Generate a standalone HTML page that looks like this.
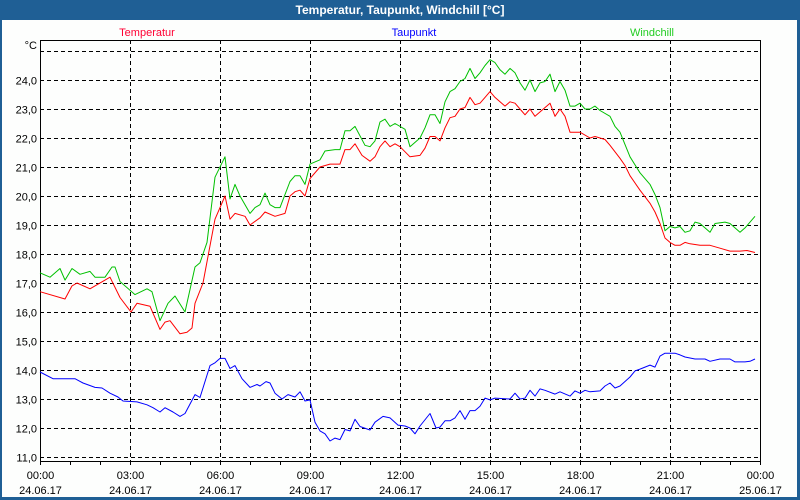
<!DOCTYPE html>
<html><head><meta charset="utf-8"><style>
html,body{margin:0;padding:0;background:#1f5f95;}
#wrap{position:relative;width:800px;height:500px;overflow:hidden;background:#1f5f95;font-family:"Liberation Sans",sans-serif;}
#title{position:absolute;left:0;top:0;width:800px;height:20px;line-height:20px;text-align:center;color:#fff;font-weight:bold;font-size:12px;}
svg{position:absolute;left:0;top:0;}
</style></head><body>
<div id="wrap">
<div id="title">Temperatur, Taupunkt, Windchill [°C]</div>
<svg id="chart" width="800" height="500">
<rect x="2" y="20" width="795" height="477" fill="#fdfefd"/>
</svg>
</div>
<script>
const yTicks=[11,12,13,14,15,16,17,18,19,20,21,22,23,24,25];
const xTickHours=[0,3,6,9,12,15,18,21,24];
const xTimeLabels=["00:00","03:00","06:00","09:00","12:00","15:00","18:00","21:00","00:00"];
const xDateLabels=["24.06.17","24.06.17","24.06.17","24.06.17","24.06.17","24.06.17","24.06.17","24.06.17","25.06.17"];
const seriesNames=["Temperatur","Taupunkt","Windchill"];
const tempMin=[0,50,64,74,100,140,160,182,194,220,240,250,260,280,294,304,310,326,350,370,380,390,410,420,440,450,470,490,500,510,520,530,540,560,580,600,610,620,630,644,660,670,680,690,700,710,720,740,760,770,780,790,800,810,820,830,840,850,860,870,880,890,900,910,930,940,950,960,970,980,990,1020,1030,1040,1050,1060,1080,1100,1110,1130,1140,1160,1170,1180,1200,1220,1230,1240,1250,1260,1270,1280,1290,1300,1320,1340,1360,1380,1400,1414,1430];
const tempVal=[16.7,16.45,16.9,17.0,16.8,17.2,16.5,16.0,16.3,16.2,15.4,15.65,15.7,15.25,15.3,15.45,16.3,17.0,19.2,20.0,19.2,19.4,19.3,19.0,19.25,19.45,19.3,19.4,20.0,20.15,20.2,20.0,20.6,21.0,21.1,21.1,21.6,21.6,21.8,21.4,21.2,21.35,21.7,21.9,21.7,21.8,21.7,21.35,21.4,21.65,22.05,22.05,21.9,22.35,22.7,22.75,23.0,23.05,23.4,23.15,23.2,23.4,23.6,23.4,23.1,23.25,23.2,23.0,22.8,23.0,22.75,23.2,22.75,23.0,22.75,22.2,22.2,22.0,22.05,21.95,21.75,21.3,21.05,20.7,20.2,19.75,19.45,19.05,18.55,18.4,18.3,18.3,18.4,18.35,18.3,18.3,18.2,18.1,18.1,18.12,18.05];
const dewMin=[0,26,70,86,110,124,140,156,166,194,214,226,240,250,266,280,290,310,320,340,350,360,370,380,390,404,420,434,440,452,460,470,484,496,510,520,530,540,550,560,570,580,590,600,610,620,630,640,660,670,686,700,716,730,740,750,760,780,792,800,810,820,830,840,850,860,870,880,890,900,910,940,950,960,970,980,990,1000,1010,1030,1040,1060,1070,1080,1090,1100,1120,1130,1140,1150,1160,1180,1190,1200,1210,1220,1230,1240,1250,1270,1280,1290,1310,1330,1340,1360,1380,1390,1410,1420,1430];
const dewVal=[13.93,13.7,13.7,13.55,13.4,13.38,13.2,13.07,12.93,12.9,12.8,12.7,12.55,12.7,12.55,12.4,12.5,13.15,13.05,14.15,14.25,14.4,14.4,14.05,14.15,13.7,13.4,13.5,13.45,13.6,13.55,13.2,13.0,13.15,13.07,13.25,12.93,12.97,12.2,11.9,11.8,11.55,11.65,11.6,11.95,11.9,12.3,12.05,11.93,12.2,12.4,12.35,12.1,12.07,12.0,11.8,12.07,12.5,12.0,12.03,12.25,12.25,12.35,12.6,12.3,12.6,12.6,12.75,13.03,12.97,13.03,13.0,13.2,13.0,13.03,13.3,13.1,13.35,13.3,13.17,13.25,13.1,13.28,13.2,13.3,13.25,13.28,13.45,13.55,13.38,13.45,13.76,13.97,14.03,14.1,14.17,14.1,14.48,14.58,14.58,14.52,14.45,14.38,14.38,14.3,14.38,14.38,14.28,14.28,14.3,14.38];
const windMin=[0,20,40,50,64,80,100,110,130,144,150,160,190,214,224,240,256,270,290,310,320,334,350,370,380,390,400,420,430,440,450,460,470,480,500,510,520,530,540,560,570,590,600,610,620,630,650,660,670,680,690,700,710,730,740,760,770,780,790,800,810,820,830,840,850,860,870,880,890,900,910,920,930,940,950,960,970,980,990,1000,1010,1020,1030,1040,1050,1060,1070,1080,1090,1100,1110,1120,1140,1150,1160,1180,1200,1220,1230,1240,1250,1260,1270,1280,1290,1300,1310,1320,1340,1350,1370,1380,1400,1410,1430];
const windVal=[17.35,17.2,17.5,17.1,17.5,17.3,17.4,17.2,17.2,17.55,17.55,17.05,16.6,16.8,16.7,15.7,16.3,16.55,16.0,17.55,17.7,18.4,20.65,21.35,19.9,20.4,20.0,19.4,19.6,19.7,20.1,19.7,19.6,19.6,20.5,20.7,20.7,20.4,21.1,21.25,21.55,21.6,21.6,22.25,22.25,22.4,21.75,21.7,21.9,22.55,22.65,22.4,22.5,22.3,21.7,22.0,22.35,22.8,22.8,22.5,23.25,23.6,23.7,23.95,24.05,24.4,24.05,24.25,24.5,24.7,24.6,24.35,24.2,24.4,24.25,23.9,23.65,24.0,23.6,23.9,23.95,24.2,23.6,23.95,23.65,23.1,23.1,23.2,23.0,23.0,23.1,22.95,22.75,22.4,22.2,21.35,20.8,20.4,20.05,19.6,18.8,18.95,18.9,18.95,18.75,18.8,19.1,19.05,18.75,19.05,19.1,19.05,18.75,18.9,19.3];

const NS="http://www.w3.org/2000/svg";
const svg=document.getElementById('chart');
const L=40,R=760,T=40,B=461;
const xMin=0,xMax=1440;
function xs(m){return L+(m-xMin)/(xMax-xMin)*(R-L);}
function ys(v){return 80+(24-v)*29;}
function mk(tag,attrs,parent){const e=document.createElementNS(NS,tag);for(const k in attrs)e.setAttribute(k,attrs[k]);(parent||svg).appendChild(e);return e;}

yTicks.forEach(v=>{
  const y=Math.round(ys(v))+0.5;
  const g=mk('line',{x1:L,x2:R,y1:y,y2:y,stroke:'#000','stroke-width':1,'stroke-dasharray':'4,3'});
  
  
  if(v<25){
    const t=mk('text',{x:37,y:y+4,'text-anchor':'end','font-size':11,fill:'#000','font-family':'Liberation Sans, sans-serif'});
    t.textContent=v.toFixed(1).replace('.',',');
    
    
  }
});
const unit=mk('text',{x:37,y:49,'text-anchor':'end','font-size':11,fill:'#000','font-family':'Liberation Sans, sans-serif'});
unit.textContent='°C';



xTickHours.forEach((h,i)=>{
  const x=Math.round(xs(h*60))+0.5;
  if(i>0&&i<xTickHours.length-1){
    const g=mk('line',{x1:x,x2:x,y1:T,y2:B+5,stroke:'#000','stroke-width':1,'stroke-dasharray':'4,3'});
    
    
  }
  const t1=mk('text',{x:x,y:479,'text-anchor':'middle','font-size':11,fill:'#000','font-family':'Liberation Sans, sans-serif'});
  t1.textContent=xTimeLabels[i];
  
  
  const t2=mk('text',{x:x,y:494,'text-anchor':'middle','font-size':11,fill:'#000','font-family':'Liberation Sans, sans-serif'});
  t2.textContent=xDateLabels[i];
  
  
});
for(let h=0;h<=24;h++){
  const x=Math.round(xs(h*60))+0.5;
  const tk=mk('line',{x1:x,x2:x,y1:B,y2:B+4,stroke:'#000','stroke-width':1});
  
  
}
const fr=mk('rect',{x:L+0.5,y:T+0.5,width:R-L,height:B-T,fill:'none',stroke:'#000','stroke-width':1});



function line(mins,vals,color,name){
  const n=Math.min(mins.length,vals.length);
  let d='';
  for(let i=0;i<n;i++)d+=(i?'L':'M')+xs(mins[i]).toFixed(1)+','+ys(vals[i]).toFixed(1);
  const p=mk('path',{d:d,fill:'none',stroke:color,'stroke-width':1,'stroke-linejoin':'round'});
  
  
}
line(dewMin,dewVal,'#0000ff','taupunkt-line');
line(windMin,windVal,'#00c000','windchill-line');
line(tempMin,tempVal,'#ff0000','temperatur-line');

const legX=[147,414,652];
const legC=['#ff0033','#0000ff','#22cc22'];
seriesNames.forEach((s,i)=>{
  const t=mk('text',{x:legX[i],y:36,'text-anchor':'middle','font-size':11,fill:legC[i],'font-family':'Liberation Sans, sans-serif'});
  t.textContent=s;
  
  
});
</script>
</body></html>
